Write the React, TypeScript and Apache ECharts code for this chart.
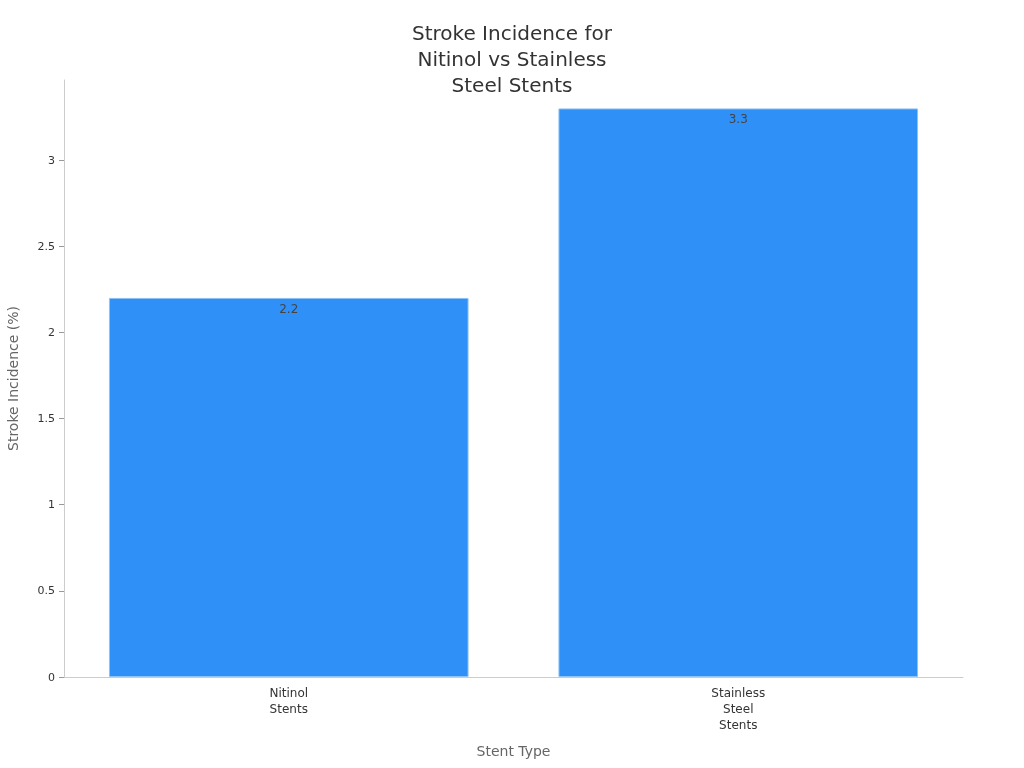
import React, { useEffect, useRef } from "react";
import * as echarts from "echarts";

const categories = ["Nitinol\nStents", "Stainless\nSteel\nStents"];
const strokeIncidence = [2.2, 3.3];
const yTicks = [0, 0.5, 1, 1.5, 2, 2.5, 3];

export default function App() {
  const ref = useRef<HTMLDivElement>(null);
  useEffect(() => {
    const chart = echarts.init(ref.current!, null, { renderer: "svg" });
    const font = "DejaVu Sans";
    chart.setOption({
      animation: false,
      textStyle: { fontFamily: font },
      title: {
        text: "Stroke Incidence for\nNitinol vs Stainless\nSteel Stents",
        left: "center",
        top: 15,
        textStyle: { fontFamily: font, fontSize: 20, fontWeight: "normal", color: "#333", lineHeight: 26 },
      },
      grid: { left: 64, right: 61, top: 80, bottom: 91, outerBoundsMode: "none", containLabel: false },
      xAxis: {
        type: "category",
        data: categories,
        name: "Stent Type",
        nameLocation: "middle",
        nameGap: 67,
        nameTextStyle: { fontFamily: font, fontSize: 14, color: "#666" },
        axisLine: { lineStyle: { color: "#ccc" } },
        axisTick: { alignWithLabel: true, lineStyle: { color: "#999" }, length: 5 },
        axisLabel: { fontFamily: font, fontSize: 12, color: "#333", lineHeight: 16, margin: 8 },
      },
      yAxis: {
        type: "value",
        min: 0,
        max: 3.465,
        interval: 0.5,
        name: "Stroke Incidence (%)",
        nameLocation: "middle",
        nameGap: 44,
        nameTextStyle: { fontFamily: font, fontSize: 14, color: "#666" },
        axisLine: { show: true, lineStyle: { color: "#ccc" } },
        axisTick: { show: true, length: 5, lineStyle: { color: "#999" }, customValues: yTicks },
        axisLabel: { fontFamily: font, fontSize: 11, color: "#333", margin: 9, customValues: yTicks },
        splitLine: { show: false },
      },
      series: [
        {
          type: "bar",
          data: strokeIncidence,
          barCategoryGap: "20%",
          itemStyle: { color: "#2f91f8", borderColor: "#8fc2f7", borderWidth: 1 },
          label: {
            show: true,
            position: "insideTop",
            distance: 5,
            fontFamily: font,
            fontSize: 12,
            color: "#444",
          },
        },
      ],
    });
    return () => chart.dispose();
  }, []);
  return <div ref={ref} style={{ position: "fixed", left: 0, top: 0, width: 1024, height: 768 }} />;
}
